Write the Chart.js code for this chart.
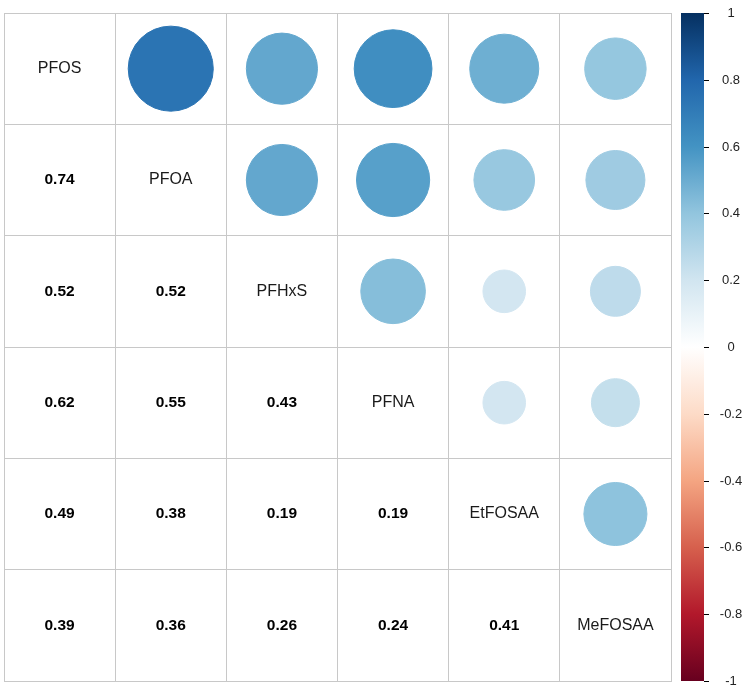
<!DOCTYPE html>
<html>
<head>
<meta charset="utf-8">
<script src="https://cdn.jsdelivr.net/npm/chart.js@4/dist/chart.umd.min.js"></script>
<style>
  html, body { margin: 0; padding: 0; background: #fff; }
  #wrap { width: 753px; height: 695px; }
</style>
</head>
<body>
<div id="wrap"><canvas id="cv" width="753" height="695"></canvas></div>
<script>
// ── Variáveis e correlações (matriz simétrica, linha por variável) ──
const variables  = ['PFOS', 'PFOA', 'PFHxS', 'PFNA', 'EtFOSAA', 'MeFOSAA'];
const corrPFOS    = [1.00, 0.74, 0.52, 0.62, 0.49, 0.39];
const corrPFOA    = [0.74, 1.00, 0.52, 0.55, 0.38, 0.36];
const corrPFHxS   = [0.52, 0.52, 1.00, 0.43, 0.19, 0.26];
const corrPFNA    = [0.62, 0.55, 0.43, 1.00, 0.19, 0.24];
const corrEtFOSAA = [0.49, 0.38, 0.19, 0.19, 1.00, 0.41];
const corrMeFOSAA = [0.39, 0.36, 0.26, 0.24, 0.41, 1.00];
const corrRows = [corrPFOS, corrPFOA, corrPFHxS, corrPFNA, corrEtFOSAA, corrMeFOSAA];

// legenda de cores
const colorbarTicks = [1, 0.8, 0.6, 0.4, 0.2, 0, -0.2, -0.4, -0.6, -0.8, -1];
const paletteRdBu = ['#67001F', '#B2182B', '#D6604D', '#F4A582', '#FDDBC7', '#FFFFFF',
                     '#D1E5F0', '#92C5DE', '#4393C3', '#2166AC', '#053061'];

// ── Cor para um valor de -1..1 ──
function hexToRgb(h) {
  return [parseInt(h.slice(1, 3), 16), parseInt(h.slice(3, 5), 16), parseInt(h.slice(5, 7), 16)];
}
function colorFor(v) {
  const pos = (v + 1) / 2 * (paletteRdBu.length - 1);
  const i = Math.min(paletteRdBu.length - 2, Math.floor(pos));
  const t = pos - i;
  const a = hexToRgb(paletteRdBu[i]), b = hexToRgb(paletteRdBu[i + 1]);
  const c = a.map((x, k) => Math.round(x + (b[k] - x) * t));
  return `rgb(${c[0]},${c[1]},${c[2]})`;
}

// ── Pontos do triângulo superior (círculos) ──
const n = variables.length;
const upper = [];
for (let i = 0; i < n; i++) {
  for (let j = i + 1; j < n; j++) {
    upper.push({ x: j + 0.5, y: i + 0.5, v: corrRows[i][j] });
  }
}

const FONT = "Arial, 'Liberation Sans', sans-serif";
const GRID = '#c8c8c8';

// ── Textos: nomes na diagonal, valores no triângulo inferior ──
const cellTextPlugin = {
  id: 'cellText',
  afterDatasetsDraw(chart) {
    const ctx = chart.ctx, xs = chart.scales.x, ys = chart.scales.y;
    ctx.save();
    ctx.textAlign = 'center'; ctx.textBaseline = 'middle';
    for (let i = 0; i < n; i++) {
      for (let j = 0; j <= i; j++) {
        const px = xs.getPixelForValue(j + 0.5);
        const py = ys.getPixelForValue(i + 0.5);
        if (i === j) {
          ctx.font = '16px ' + FONT; ctx.fillStyle = '#1a1a1a';
          ctx.fillText(variables[i], px, py);
        } else {
          ctx.font = 'bold 15.5px ' + FONT; ctx.fillStyle = '#000';
          ctx.fillText(corrRows[i][j].toFixed(2), px, py);
        }
      }
    }
    ctx.restore();
  }
};

// ── Barra de cores à direita ──
const colorbarPlugin = {
  id: 'colorbar',
  afterDraw(chart) {
    const ctx = chart.ctx, cs = chart.scales.yc, area = chart.chartArea;
    const x0 = area.right + 10, w = 23;
    const yTop = cs.getPixelForValue(1), yBot = cs.getPixelForValue(-1);
    ctx.save();
    const g = ctx.createLinearGradient(0, yBot, 0, yTop);
    paletteRdBu.forEach((c, k) => g.addColorStop(k / (paletteRdBu.length - 1), c));
    ctx.fillStyle = g;
    ctx.fillRect(x0, yTop, w, yBot - yTop);
    ctx.strokeStyle = '#000'; ctx.lineWidth = 1;
    ctx.font = '13px ' + FONT; ctx.fillStyle = '#222';
    ctx.textAlign = 'center'; ctx.textBaseline = 'middle';
    colorbarTicks.forEach(t => {
      const y = Math.round(cs.getPixelForValue(t)) + 0.5;
      ctx.beginPath(); ctx.moveTo(x0 + w, y); ctx.lineTo(x0 + w + 5, y); ctx.stroke();
      ctx.fillText(String(t), x0 + w + 27, y);
    });
    ctx.restore();
  }
};

const ctx = document.getElementById('cv').getContext('2d');
new Chart(ctx, {
  type: 'scatter',
  data: {
    datasets: [{
      data: upper,
      showLine: false,
      pointStyle: 'circle',
      pointBackgroundColor: c => colorFor(c.raw.v),
      pointBorderColor: c => colorFor(c.raw.v),
      pointBorderWidth: 1,
      // raio ~ sqrt(|r|) (área proporcional a |r|), relativo ao tamanho da célula
      pointRadius: c => {
        const xs = c.chart.scales.x;
        const cell = Math.abs(xs.getPixelForValue(1) - xs.getPixelForValue(0));
        if (!isFinite(cell)) return 0;
        return 0.45 * Math.sqrt(Math.abs(c.raw.v)) * cell - 0.5;
      }
    }]
  },
  plugins: [cellTextPlugin, colorbarPlugin],
  options: {
    responsive: false, animation: false, events: [],
    layout: { padding: { left: 4, top: 13, right: 82, bottom: 14 } },
    plugins: { legend: { display: false }, tooltip: { enabled: false } },
    scales: {
      x: {
        type: 'linear', min: 0, max: n,
        ticks: { display: false, stepSize: 1 },
        grid: { color: GRID, drawTicks: false },
        border: { color: GRID }
      },
      y: {
        type: 'linear', min: 0, max: n, reverse: true,
        ticks: { display: false, stepSize: 1 },
        grid: { color: GRID, drawTicks: false },
        border: { color: GRID }
      },
      yc: { type: 'linear', min: -1, max: 1, display: false }
    }
  }
});
</script>
</body>
</html>
